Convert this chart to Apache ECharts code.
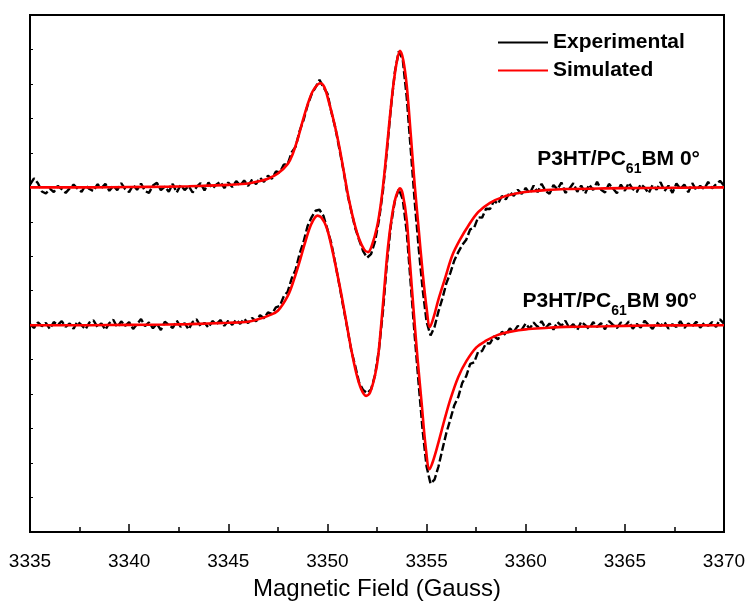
<!DOCTYPE html>
<html>
<head>
<meta charset="utf-8">
<script src="https://cdn.jsdelivr.net/npm/echarts@6/dist/echarts.min.js"></script>
<style>
  html, body { margin: 0; padding: 0; background: #fff; }
  #chart { width: 749px; height: 604px; }
</style>
</head>
<body>
<div id="chart"></div>
<script>
// Axis settings
const fieldMin = 3335;
const fieldMax = 3370;
const fieldStep = 5;
const fieldTickLabels = ['3335', '3340', '3345', '3350', '3355', '3360', '3365', '3370'];

// Trace labels
const traceLabels = ['P3HT/PC61BM 0°', 'P3HT/PC61BM 90°'];
const seriesNames = ['Experimental', 'Simulated'];

// Simulated spectrum, 0° orientation: [field (G), signal (offset units)]
const sim0 = [
  [3335, 10.00], [3338, 10.00], [3340, 10.01], [3342, 10.02], [3343, 10.03], [3344, 10.05],
  [3345, 10.07], [3345.5, 10.09], [3346, 10.11], [3346.5, 10.17], [3347, 10.25], [3347.5, 10.40],
  [3348, 10.68], [3348.25, 10.97], [3348.5, 11.40], [3348.75, 11.92], [3349, 12.40], [3349.25, 12.78],
  [3349.5, 12.98], [3349.65, 13.02], [3349.85, 12.90], [3350.1, 12.42], [3350.35, 11.85], [3350.6, 11.18],
  [3350.85, 10.38], [3351.1, 9.60], [3351.35, 8.98], [3351.6, 8.50], [3351.85, 8.20], [3352.05, 8.12],
  [3352.25, 8.33], [3352.5, 8.85], [3352.7, 9.55], [3352.9, 10.55], [3353.1, 11.75], [3353.3, 12.85],
  [3353.5, 13.65], [3353.66, 13.96], [3353.82, 13.70], [3354.0, 12.95], [3354.2, 11.55], [3354.4, 10.08],
  [3354.6, 8.80], [3354.8, 7.55], [3355.0, 6.50], [3355.17, 5.95], [3355.35, 6.22], [3355.6, 6.75],
  [3355.9, 7.30], [3356.3, 8.03], [3356.7, 8.50], [3357.1, 8.88], [3357.6, 9.28], [3358.2, 9.55],
  [3358.9, 9.73], [3359.6, 9.83], [3360.2, 9.88], [3361, 9.92], [3362, 9.95], [3364, 9.97],
  [3366, 9.98], [3370, 10.00]
];

// Simulated spectrum, 90° orientation
const sim90 = [
  [3335, 6.00], [3338, 6.00], [3340, 6.01], [3342, 6.02], [3343, 6.03], [3344, 6.05],
  [3345, 6.07], [3346, 6.10], [3346.5, 6.17], [3347, 6.27], [3347.5, 6.42], [3348, 6.85],
  [3348.3, 7.30], [3348.6, 7.85], [3348.9, 8.45], [3349.2, 8.95], [3349.5, 9.18], [3349.7, 9.12],
  [3349.95, 8.85], [3350.2, 8.30], [3350.45, 7.62], [3350.7, 6.90], [3350.95, 6.10], [3351.2, 5.30],
  [3351.45, 4.62], [3351.7, 4.15], [3351.95, 3.95], [3352.15, 4.05], [3352.4, 4.55], [3352.55, 5.05],
  [3352.8, 6.60], [3353.05, 8.25], [3353.25, 9.15], [3353.45, 9.72], [3353.66, 9.97], [3353.8, 9.80],
  [3354.0, 9.05], [3354.15, 7.90], [3354.35, 6.40], [3354.55, 5.00], [3354.75, 3.75], [3354.95, 2.50],
  [3355.15, 1.82], [3355.35, 2.10], [3355.6, 2.60], [3355.9, 3.25], [3356.2, 3.85], [3356.6, 4.50],
  [3357.0, 4.95], [3357.5, 5.35], [3358, 5.55], [3358.6, 5.72], [3359.3, 5.82], [3360, 5.88],
  [3361, 5.92], [3362, 5.95], [3364, 5.97], [3366, 5.99], [3370, 6.00]
];

// Measured spectrum, 0° orientation (0.2 G sweep step)
const exp0 = [
  [3335.0, 10.08], [3335.2, 10.26], [3335.4, 10.12], [3335.6, 9.88], [3335.8, 9.82],
  [3336.0, 9.96], [3336.2, 9.86], [3336.4, 10.04], [3336.6, 9.95], [3336.8, 9.84],
  [3337.0, 9.97], [3337.2, 10.08], [3337.4, 9.96], [3337.6, 9.87], [3337.8, 10.06],
  [3338.0, 9.95], [3338.2, 9.89], [3338.4, 10.09], [3338.6, 9.98], [3338.8, 10.10],
  [3339.0, 9.90], [3339.2, 10.04], [3339.4, 9.92], [3339.6, 10.12], [3339.8, 9.95],
  [3340.0, 9.86], [3340.2, 10.07], [3340.4, 9.93], [3340.6, 10.11], [3340.8, 9.89],
  [3341.0, 9.84], [3341.2, 10.05], [3341.4, 10.13], [3341.6, 9.92], [3341.8, 10.02],
  [3342.0, 9.87], [3342.2, 10.10], [3342.4, 9.85], [3342.6, 10.07], [3342.8, 9.92],
  [3343.0, 10.04], [3343.2, 9.85], [3343.4, 10.01], [3343.6, 10.12], [3343.8, 9.91],
  [3344.0, 10.14], [3344.2, 9.97], [3344.4, 10.08], [3344.6, 10.16], [3344.8, 9.98],
  [3345.0, 10.14], [3345.2, 10.01], [3345.4, 10.18], [3345.6, 10.05], [3345.8, 10.20],
  [3346.0, 10.04], [3346.2, 10.22], [3346.4, 10.09], [3346.6, 10.28], [3346.8, 10.16],
  [3347.0, 10.34], [3347.2, 10.25], [3347.4, 10.46], [3347.6, 10.43], [3347.8, 10.66],
  [3348.0, 10.68], [3348.2, 11.02], [3348.4, 11.18], [3348.6, 11.64], [3348.8, 11.96],
  [3349.0, 12.38], [3349.2, 12.70], [3349.4, 12.90], [3349.6, 13.12], [3349.8, 12.90],
  [3350.0, 12.72], [3350.2, 12.18], [3350.4, 11.72], [3350.6, 11.12], [3350.8, 10.52],
  [3351.0, 9.83], [3351.2, 9.32], [3351.4, 8.82], [3351.6, 8.47], [3351.8, 8.15],
  [3352.0, 7.96], [3352.2, 8.06], [3352.4, 8.43], [3352.6, 9.05], [3352.8, 9.90],
  [3353.0, 11.05], [3353.2, 12.30], [3353.4, 13.35], [3353.6, 13.95], [3353.8, 13.70],
  [3354.0, 12.60], [3354.2, 11.10], [3354.4, 9.60], [3354.6, 8.25], [3354.8, 7.05],
  [3355.0, 6.10], [3355.2, 5.70], [3355.4, 5.95], [3355.6, 6.40], [3355.8, 6.78],
  [3356.0, 7.22], [3356.2, 7.52], [3356.4, 7.88], [3356.6, 8.12], [3356.8, 8.33],
  [3357.0, 8.48], [3357.2, 8.78], [3357.4, 8.83], [3357.6, 9.13], [3357.8, 9.12],
  [3358.0, 9.38], [3358.2, 9.37], [3358.4, 9.61], [3358.6, 9.52], [3358.8, 9.75],
  [3359.0, 9.65], [3359.2, 9.86], [3359.4, 9.75], [3359.6, 9.93], [3359.8, 9.81],
  [3360.0, 9.98], [3360.2, 9.82], [3360.4, 10.05], [3360.6, 9.86], [3360.8, 10.10],
  [3361.0, 9.90], [3361.2, 9.81], [3361.4, 10.07], [3361.6, 9.94], [3361.8, 10.14],
  [3362.0, 9.84], [3362.2, 9.96], [3362.4, 10.12], [3362.6, 9.87], [3362.8, 10.05],
  [3363.0, 9.82], [3363.2, 10.08], [3363.4, 9.92], [3363.6, 10.16], [3363.8, 9.93],
  [3364.0, 9.85], [3364.2, 10.10], [3364.4, 9.97], [3364.6, 9.83], [3364.8, 10.08],
  [3365.0, 9.90], [3365.2, 10.13], [3365.4, 9.95], [3365.6, 9.86], [3365.8, 10.09],
  [3366.0, 9.99], [3366.2, 9.83], [3366.4, 10.07], [3366.6, 9.93], [3366.8, 10.15],
  [3367.0, 9.89], [3367.2, 10.05], [3367.4, 9.84], [3367.6, 10.11], [3367.8, 9.96],
  [3368.0, 10.08], [3368.2, 9.86], [3368.4, 10.12], [3368.6, 9.92], [3368.8, 10.04],
  [3369.0, 9.95], [3369.2, 10.16], [3369.4, 9.97], [3369.6, 10.09], [3369.8, 10.19],
  [3370.0, 10.05]
];

// Measured spectrum, 90° orientation (0.2 G sweep step)
const exp90 = [
  [3335.0, 6.03], [3335.2, 5.92], [3335.4, 6.08], [3335.6, 5.97], [3335.8, 6.07],
  [3336.0, 5.89], [3336.2, 6.09], [3336.4, 6.01], [3336.6, 6.12], [3336.8, 5.95],
  [3337.0, 6.05], [3337.2, 5.90], [3337.4, 6.11], [3337.6, 6.00], [3337.8, 5.88],
  [3338.0, 6.08], [3338.2, 6.14], [3338.4, 5.95], [3338.6, 6.05], [3338.8, 5.87],
  [3339.0, 6.06], [3339.2, 6.16], [3339.4, 5.94], [3339.6, 6.11], [3339.8, 5.98],
  [3340.0, 6.09], [3340.2, 5.89], [3340.4, 6.03], [3340.6, 6.18], [3340.8, 5.97],
  [3341.0, 6.08], [3341.2, 5.91], [3341.4, 6.04], [3341.6, 5.86], [3341.8, 6.10],
  [3342.0, 6.01], [3342.2, 5.92], [3342.4, 6.13], [3342.6, 5.95], [3342.8, 6.06],
  [3343.0, 5.88], [3343.2, 6.09], [3343.4, 6.17], [3343.6, 5.97], [3343.8, 6.07],
  [3344.0, 5.93], [3344.2, 6.12], [3344.4, 6.03], [3344.6, 6.15], [3344.8, 5.98],
  [3345.0, 6.13], [3345.2, 6.01], [3345.4, 6.16], [3345.6, 6.04], [3345.8, 6.19],
  [3346.0, 6.06], [3346.2, 6.21], [3346.4, 6.11], [3346.6, 6.29], [3346.8, 6.20],
  [3347.0, 6.37], [3347.2, 6.33], [3347.4, 6.52], [3347.6, 6.56], [3347.8, 6.84],
  [3348.0, 6.98], [3348.2, 7.36], [3348.4, 7.62], [3348.6, 8.08], [3348.8, 8.43],
  [3349.0, 8.88], [3349.2, 9.13], [3349.4, 9.32], [3349.6, 9.35], [3349.8, 9.17],
  [3350.0, 8.78], [3350.2, 8.37], [3350.4, 7.78], [3350.6, 7.17], [3350.8, 6.53],
  [3351.0, 5.92], [3351.2, 5.28], [3351.4, 4.82], [3351.6, 4.33], [3351.8, 4.12],
  [3352.0, 4.03], [3352.2, 4.14], [3352.4, 4.55], [3352.6, 5.30], [3352.8, 6.40],
  [3353.0, 7.80], [3353.2, 8.90], [3353.4, 9.60], [3353.6, 9.95], [3353.8, 9.65],
  [3354.0, 8.70], [3354.2, 7.20], [3354.4, 5.70], [3354.6, 4.30], [3354.8, 2.95],
  [3355.0, 1.90], [3355.2, 1.40], [3355.4, 1.52], [3355.6, 1.90], [3355.8, 2.40],
  [3356.0, 2.88], [3356.2, 3.27], [3356.4, 3.68], [3356.6, 3.92], [3356.8, 4.33],
  [3357.0, 4.52], [3357.2, 4.88], [3357.4, 4.92], [3357.6, 5.23], [3357.8, 5.25],
  [3358.0, 5.48], [3358.2, 5.47], [3358.4, 5.68], [3358.6, 5.59], [3358.8, 5.81],
  [3359.0, 5.71], [3359.2, 5.91], [3359.4, 5.81], [3359.6, 5.98], [3359.8, 5.87],
  [3360.0, 6.05], [3360.2, 5.90], [3360.4, 6.08], [3360.6, 5.95], [3360.8, 6.12],
  [3361.0, 5.91], [3361.2, 6.05], [3361.4, 5.87], [3361.6, 6.09], [3361.8, 5.98],
  [3362.0, 6.13], [3362.2, 5.92], [3362.4, 6.03], [3362.6, 5.86], [3362.8, 6.10],
  [3363.0, 6.00], [3363.2, 5.89], [3363.4, 6.09], [3363.6, 5.95], [3363.8, 6.06],
  [3364.0, 5.88], [3364.2, 6.12], [3364.4, 6.01], [3364.6, 5.92], [3364.8, 6.08],
  [3365.0, 5.97], [3365.2, 6.11], [3365.4, 5.90], [3365.6, 6.04], [3365.8, 5.93],
  [3366.0, 6.13], [3366.2, 6.00], [3366.4, 5.89], [3366.6, 6.08], [3366.8, 5.98],
  [3367.0, 6.09], [3367.2, 5.90], [3367.4, 6.03], [3367.6, 5.95], [3367.8, 6.12],
  [3368.0, 5.92], [3368.2, 6.05], [3368.4, 5.97], [3368.6, 6.10], [3368.8, 5.93],
  [3369.0, 6.06], [3369.2, 5.98], [3369.4, 6.09], [3369.6, 5.95], [3369.8, 6.17],
  [3370.0, 6.04]
];

const FONT = 'Arial, "Liberation Sans", Helvetica, sans-serif';

function labelRich(label) {
  // split "P3HT/PC61BM 0°" into main text and subscript
  const m = label.match(/^(.*PC)(\d+)(BM.*)$/);
  return '{a|' + m[1] + '}{b|' + m[2] + '}{a|' + m[3] + '}';
}
const richStyles = {
  a: { fontFamily: FONT, fontSize: 21, fontWeight: 'bold', fill: '#000', lineHeight: 34, verticalAlign: 'middle' },
  b: { fontFamily: FONT, fontSize: 14, fontWeight: 'bold', fill: '#000', lineHeight: 34, verticalAlign: 'bottom' }
};

const chart = echarts.init(document.getElementById('chart'), null, { renderer: 'canvas' });

const expLine = { color: '#000', width: 2.4, type: [8, 3] };
const simLine = { color: '#ff0000', width: 2.6 };

chart.setOption({
  animation: false,
  backgroundColor: '#fff',
  grid: {
    left: 30, right: 25, top: 15, bottom: 72,
    containLabel: false,
    outerBoundsMode: 'none',
    show: true, borderColor: '#000', borderWidth: 2, backgroundColor: 'transparent'
  },
  legend: {
    orient: 'vertical',
    left: 493,
    top: 27,
    itemWidth: 50,
    itemHeight: 14,
    itemGap: 7,
    selectedMode: false,
    textStyle: { fontFamily: FONT, fontSize: 21, fontWeight: 'bold', color: '#000' },
    data: [
      { name: seriesNames[0], icon: 'path://M0,6 L50,6 L50,8 L0,8 Z', itemStyle: { color: '#000' } },
      { name: seriesNames[1], icon: 'path://M0,6 L50,6 L50,8 L0,8 Z', itemStyle: { color: '#ff0000' } }
    ]
  },
  xAxis: {
    type: 'value',
    min: fieldMin,
    max: fieldMax,
    interval: fieldStep,
    name: 'Magnetic Field (Gauss)',
    nameLocation: 'middle',
    nameGap: 45,
    nameTextStyle: { fontFamily: FONT, fontSize: 24, color: '#000' },
    axisLine: { lineStyle: { color: '#000', width: 2 } },
    axisTick: { inside: true, length: 8, lineStyle: { color: '#000', width: 1.5 } },
    minorTick: { show: true, splitNumber: 2, length: 5, lineStyle: { color: '#000', width: 1.5 } },
    splitLine: { show: false },
    axisLabel: {
      margin: 20,
      fontFamily: FONT, fontSize: 19, color: '#000',
      formatter: function (v) { return fieldTickLabels[Math.round((v - fieldMin) / fieldStep)] || ''; }
    }
  },
  yAxis: {
    type: 'value',
    min: 0,
    max: 15,
    interval: 1,
    axisLine: { show: true, lineStyle: { color: '#000', width: 2 } },
    axisTick: { show: true, inside: true, length: 3, lineStyle: { color: '#000', width: 1 } },
    axisLabel: { show: false },
    splitLine: { show: false }
  },
  graphic: [
    { type: 'text', right: 49, top: 149, style: { text: labelRich(traceLabels[0]), rich: richStyles } },
    { type: 'text', right: 52, top: 291, style: { text: labelRich(traceLabels[1]), rich: richStyles } }
  ],
  series: [
    { name: seriesNames[0], type: 'line', data: exp0, symbol: 'none', lineStyle: expLine, itemStyle: { color: '#000' }, z: 2 },
    { name: seriesNames[0], type: 'line', data: exp90, symbol: 'none', lineStyle: expLine, itemStyle: { color: '#000' }, z: 2 },
    { name: seriesNames[1], type: 'line', data: sim0, symbol: 'none', smooth: 0.35, lineStyle: simLine, itemStyle: { color: '#ff0000' }, z: 3 },
    { name: seriesNames[1], type: 'line', data: sim90, symbol: 'none', smooth: 0.35, lineStyle: simLine, itemStyle: { color: '#ff0000' }, z: 3 }
  ]
});
</script>
</body>
</html>
